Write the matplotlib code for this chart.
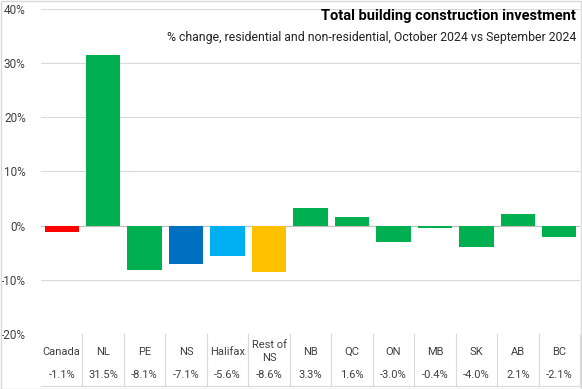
import matplotlib
matplotlib.use("Agg")
import matplotlib.pyplot as plt
from matplotlib.patches import Rectangle

regions = ["Canada", "NL", "PE", "NS", "Halifax", "Rest of\nNS", "NB", "QC",
           "ON", "MB", "SK", "AB", "BC"]
pct_change = [-1.1, 31.5, -8.1, -7.1, -5.6, -8.6, 3.3, 1.6, -3.0, -0.4, -4.0, 2.1, -2.1]
bar_colors = ["#FF0000", "#00B050", "#00B050", "#0070C0", "#00B0F0", "#FFC000",
              "#00B050", "#00B050", "#00B050", "#00B050", "#00B050", "#00B050", "#00B050"]
yticks = [-20, -10, 0, 10, 20, 30, 40]

plt.rcParams['font.family'] = ['Roboto', 'DejaVu Sans']
W, H = 582, 389
fig = plt.figure(figsize=(W / 100, H / 100), dpi=100)
ax = fig.add_axes([41 / W, (H - 334) / H, (580 - 41) / W, (334 - 9) / H])

x = list(range(len(regions)))
ax.bar(x, pct_change, width=0.83, color=bar_colors, zorder=3)

ax.set_xlim(-0.5, len(regions) - 0.5)
ax.set_ylim(-20, 40)
ax.set_yticks(yticks)
ax.set_yticklabels([f"{t}%" for t in yticks], fontsize=8.5, color="#404040")
ax.tick_params(axis="y", length=0, pad=11)
ax.set_xticks([])
ax.grid(axis="y", color="#D9D9D9", linewidth=0.8, zorder=0)
ax.axhline(0, color="#BFBFBF", linewidth=0.8, zorder=2)
for s in ax.spines.values():
    s.set_visible(False)

# data table under the plot
tr = ax.get_xaxis_transform()
for i, (lab, v) in enumerate(zip(regions, pct_change)):
    ax.text(i, -0.055, lab, transform=tr, ha="center", va="center",
            fontsize=8, color="#404040", linespacing=1.4)
    ax.text(i, -0.127, f"{v:.1f}%", transform=tr, ha="center", va="center",
            fontsize=8, color="#404040")
for i in range(1, len(regions) + 1):
    ax.plot([i - 0.5, i - 0.5], [0, -0.161], transform=tr, color="#D9D9D9",
            linewidth=0.8, clip_on=False)
ax.plot([-0.5, len(regions) - 0.5], [-0.161, -0.161], transform=tr,
        color="#D9D9D9", linewidth=0.8, clip_on=False)

fig.text(576 / W, 1 - 16 / H, "Total building construction investment",
         ha="right", va="center", fontsize=10.5, fontweight="bold", color="black")
fig.text(576 / W, 1 - 37 / H,
         "% change, residential and non-residential, October 2024 vs September 2024",
         ha="right", va="center", fontsize=8.8, color="#222222")

fig.patches.append(Rectangle((0.5 / W, 0.5 / H), 1 - 1.5 / W, 1 - 1.5 / H,
                             transform=fig.transFigure, fill=False,
                             edgecolor="#D9D9D9", linewidth=1))

fig.savefig("out.png", dpi=100)
